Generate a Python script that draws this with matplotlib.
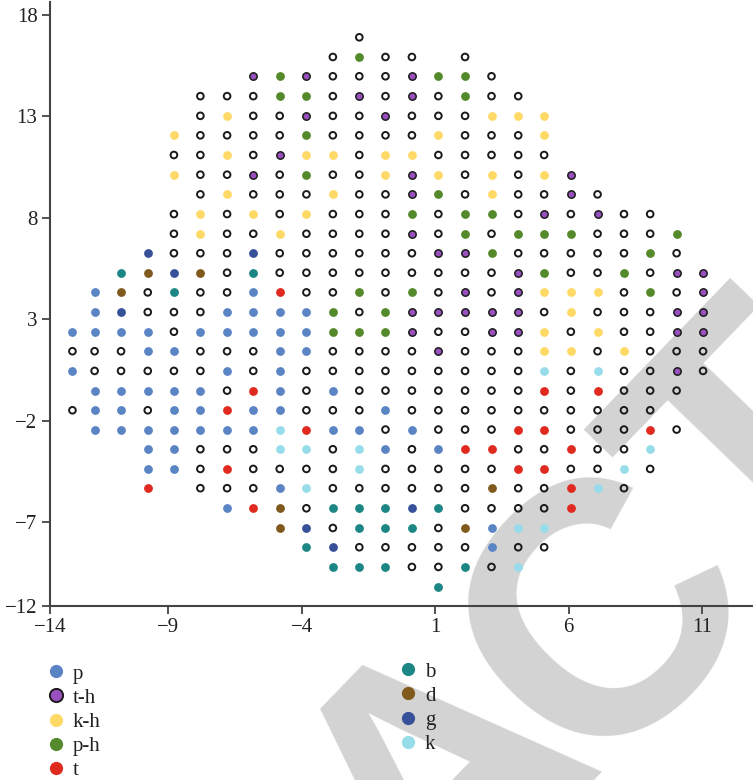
import matplotlib
matplotlib.use("Agg")
import matplotlib.pyplot as plt
from matplotlib.lines import Line2D

# column / row positions of the grid (data units)
col_x = [-12.58, -11.75, -10.76, -9.76, -8.78, -7.79, -6.79, -5.81, -4.82,
         -3.82, -2.83, -1.84, -0.86, 0.13, 1.12, 2.12, 3.11, 4.11, 5.08,
         6.08, 7.08, 8.07, 9.05, 10.04, 11.03]
row_y = [16.90, 15.93, 14.98, 14.00, 13.03, 12.07, 11.10, 10.13, 9.16, 8.19,
         7.22, 6.26, 5.30, 4.33, 3.36, 2.39, 1.43, 0.46, -0.51, -1.48, -2.43,
         -3.40, -4.37, -5.32, -6.31, -7.28, -8.23, -9.20, -10.18]

labels = ["p", "t-h", "k-h", "p-h", "t", "b", "d", "g", "k"]
codes = ["P", "H", "Y", "G", "T", "B", "D", "N", "K"]
colors = ["#5b84c5", "#9b50c0", "#ffd966", "#548a2b", "#e0291f",
          "#1b8684", "#80591c", "#37509a", "#97dce9"]

# one string per row, one character per column
# "." = unlabelled cell, " " = no cell
grid = [
    "           .",
    "          .G.. .",
    "       HGH...HGG.",
    "     ...GG.H.H.G..",
    "     .Y..H..H...YYY",
    "    Y....G....Y...Y",
    "    ..Y.HYY.YY.....",
    "    Y..H.G..YHY.Y.YH",
    "     .Y...Y..HG.Y..H.",
    "    .Y.Y.Y...G.GG.H.H..",
    "    .Y..Y....H.G.GGG...G",
    "   N...N......HHG.....G.",
    "  BDND.B.........HG..G.HH",
    " PD.B..PT..G.G.H.HYYY.G.H",
    " PN...PPPPG.GHHHHH.Y...HH",
    "PPPP.PPPPPGGGH..HHY.Y..HH",
    "...PP...PP....H...YY.Y...",
    "P.....P.P.........K.K..H.",
    " PPPPP.TP.P.......T.T...",
    ".PP.PPTPP...P..........",
    " PPPPPPPKTPP.P...TT...T.",
    "   PP...KK.KP.PTT..T..K",
    "   PP.T....K.....TT..K.",
    "   T ...PK......D..TK.",
    "      PTD.BBBNB....T",
    "        DN.BBB.DPKK",
    "         BN.....P..",
    "          BBB..B.K",
    "              B",
]

empty_x, empty_y = [], []
pts = {c: ([], []) for c in codes}
for r, line in enumerate(grid):
    for c, ch in enumerate(line):
        if ch == ".":
            empty_x.append(col_x[c])
            empty_y.append(row_y[r])
        elif ch in pts:
            pts[ch][0].append(col_x[c])
            pts[ch][1].append(row_y[r])

W, H = 753, 780
fig = plt.figure(figsize=(W / 100, H / 100), dpi=100)

# big grey watermark letters, kept underneath the axes
for ch, (px, py) in zip("ACT", [(449, 787), (612, 623), (767, 458)]):
    fig.text(px / W, 1 - py / H, ch, rotation=46, rotation_mode="anchor",
             ha="center", va="center", fontsize=258, fontweight="bold",
             family="Liberation Sans", color="#d3d3d3", zorder=0)

ax = fig.add_axes([50 / W, 1 - 605.9 / H, (W - 50) / W, (605.9 - 2) / H])
ax.set_zorder(2)
ax.patch.set_alpha(0)

ax.scatter(empty_x, empty_y, s=23, facecolors="none", edgecolors="#1a1a1a",
           linewidths=1.4, zorder=3)
handles = []
for code, lab, col in zip(codes, labels, colors):
    xs, ys = pts[code]
    if code == "H":
        ax.scatter(xs, ys, s=28, c=col, edgecolors="#1a1a1a", linewidths=1.1,
                   zorder=3)
        handles.append(Line2D([], [], ls="", marker="o", ms=9.5, mfc=col,
                              mec="#1a1a1a", mew=1.4))
    else:
        ax.scatter(xs, ys, s=40, c=col, linewidths=0, zorder=3)
        handles.append(Line2D([], [], ls="", marker="o", ms=9.5, mfc=col,
                              mec=col, mew=0))

x0, x1 = -13.42, 12.9
y0, y1 = -11.12, 18.64
ax.set_xlim(x0, x1)
ax.set_ylim(y0, y1)
ax.set_xticks([x0, -9, -4, 1, 6, 11])
ax.set_xticklabels(["−14", "−9", "−4", "1", "6", "11"])
ax.set_yticks([y0, -7, -2, 3, 8, 13, 18])
ax.set_yticklabels(["−12", "−7", "−2", "3", "8", "13", "18"])

for s in ["top", "right"]:
    ax.spines[s].set_visible(False)
for s in ["left", "bottom"]:
    ax.spines[s].set_color("#444444")
    ax.spines[s].set_linewidth(1.5)
ax.tick_params(direction="out", length=6, width=1.3, color="#444444",
               labelsize=15, labelcolor="#222222", pad=3)
for t in ax.get_xticklabels() + ax.get_yticklabels():
    t.set_family("Liberation Serif")

leg_font = {"family": "Liberation Serif", "size": 15}
leg1 = fig.legend(handles[:5], labels[:5], loc="upper left",
                  bbox_to_anchor=(48 / W, 1 - 664 / H), frameon=False,
                  prop=leg_font, handlelength=0.8, handletextpad=0.4,
                  labelspacing=0.22, borderpad=0, borderaxespad=0)
leg2 = fig.legend(handles[5:], labels[5:], loc="upper left",
                  bbox_to_anchor=(400 / W, 1 - 662 / H), frameon=False,
                  prop=leg_font, handlelength=0.8, handletextpad=0.4,
                  labelspacing=0.22, borderpad=0, borderaxespad=0)
for t in leg1.get_texts() + leg2.get_texts():
    t.set_color("#222222")
leg1.set_zorder(3)
leg2.set_zorder(3)

fig.savefig("out.png", dpi=100)
